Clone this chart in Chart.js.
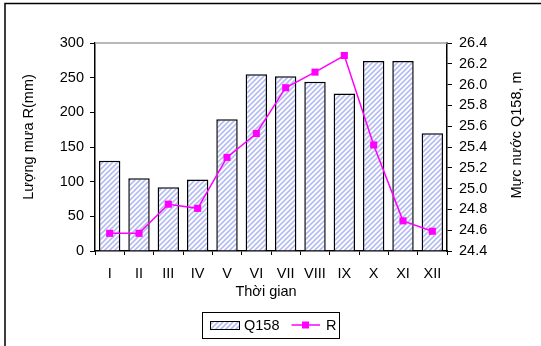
<!DOCTYPE html>
<html>
<head>
<meta charset="utf-8">
<script src="https://cdn.jsdelivr.net/npm/chart.js@4/dist/chart.umd.min.js"></script>
<style>
  html, body { margin: 0; padding: 0; background: #fff; }
  #wrap { width: 541px; height: 346px; position: relative; }
</style>
</head>
<body>
<div id="wrap"><canvas id="c" width="541" height="346"></canvas></div>
<script>
const months = ['I', 'II', 'III', 'IV', 'V', 'VI', 'VII', 'VIII', 'IX', 'X', 'XI', 'XII']
const q158 = [130, 105, 92, 103, 190, 255, 252, 244, 227, 274, 274, 170]
const rLevel = [24.57, 24.57, 24.85, 24.81, 25.3, 25.53, 25.97, 26.12, 26.28, 25.42, 24.69, 24.59]
const leftTicks = [0, 50, 100, 150, 200, 250, 300]
const rightTicks = [24.4, 24.6, 24.8, 25.0, 25.2, 25.4, 25.6, 25.8, 26.0, 26.2, 26.4]

const FONT = '14.5px "Liberation Sans", Arial, sans-serif'

function stripePattern() {
  const p = document.createElement('canvas')
  p.width = 5
  p.height = 5
  const c = p.getContext('2d')
  c.fillStyle = '#ffffff'
  c.fillRect(0, 0, 5, 5)
  c.strokeStyle = '#b4bcf2'
  c.lineWidth = 1.6
  c.beginPath()
  c.moveTo(-1, 6); c.lineTo(6, -1)
  c.moveTo(-1, 1); c.lineTo(1, -1)
  c.moveTo(4, 6); c.lineTo(6, 4)
  c.stroke()
  return document.getElementById('c').getContext('2d').createPattern(p, 'repeat')
}

const decor = {
  id: 'decor',
  beforeDraw(chart) {
    const ctx = chart.ctx
    ctx.save()
    ctx.fillStyle = '#fff'
    ctx.fillRect(0, 0, chart.width, chart.height)
    ctx.strokeStyle = '#000'
    ctx.lineWidth = 1.5
    ctx.beginPath()
    ctx.moveTo(5, 346)
    ctx.lineTo(5, 3.5)
    ctx.lineTo(541, 3.5)
    ctx.stroke()
    ctx.restore()
  },
  afterDraw(chart) {
    const ctx = chart.ctx
    const a = chart.chartArea
    ctx.save()
    // top gray line of plot area
    ctx.strokeStyle = '#a0a0a0'
    ctx.lineWidth = 1.5
    ctx.beginPath()
    ctx.moveTo(a.left, a.top)
    ctx.lineTo(a.right, a.top)
    ctx.stroke()

    ctx.fillStyle = '#000'
    ctx.font = FONT
    ctx.textAlign = 'center'
    ctx.textBaseline = 'middle'
    ctx.fillText('Thời gian', 266, 292)

    ctx.save()
    ctx.translate(28.5, 137)
    ctx.rotate(-Math.PI / 2)
    ctx.fillText('Lượng mưa R(mm)', 0, 0)
    ctx.restore()

    ctx.save()
    ctx.translate(516.5, 135)
    ctx.rotate(-Math.PI / 2)
    ctx.fillText('Mực nước Q158, m', 0, 0)
    ctx.restore()

    // legend
    ctx.strokeStyle = '#000'
    ctx.lineWidth = 1
    ctx.strokeRect(202.5, 312.5, 137, 26)
    ctx.fillStyle = chart.data.datasets[0].backgroundColor
    ctx.fillRect(210, 321, 29, 8)
    ctx.strokeRect(210.5, 321.5, 29, 8)
    ctx.fillStyle = '#000'
    ctx.textAlign = 'left'
    ctx.fillText(chart.data.datasets[0].label, 244, 325.5)
    ctx.strokeStyle = '#ff00ff'
    ctx.lineWidth = 1.5
    ctx.beginPath()
    ctx.moveTo(291.5, 325)
    ctx.lineTo(320, 325)
    ctx.stroke()
    ctx.fillStyle = '#ff00ff'
    ctx.fillRect(302, 321.5, 7, 7)
    ctx.fillStyle = '#000'
    ctx.fillText(chart.data.datasets[1].label, 326, 325.5)
    ctx.restore()
  }
}

Chart.defaults.font.family = '"Liberation Sans", Arial, sans-serif'
Chart.defaults.font.size = 14.5
Chart.defaults.color = '#000'

new Chart(document.getElementById('c'), {
  data: {
    labels: months,
    datasets: [
      {
        type: 'bar',
        label: 'Q158',
        data: q158,
        yAxisID: 'y',
        backgroundColor: stripePattern(),
        borderColor: '#000',
        borderWidth: 1.5,
        borderSkipped: 'bottom',
        barPercentage: 0.73,
        categoryPercentage: 1,
        order: 2
      },
      {
        type: 'line',
        label: 'R',
        data: rLevel,
        yAxisID: 'y2',
        borderColor: '#ff00ff',
        backgroundColor: '#ff00ff',
        borderWidth: 1.5,
        pointStyle: 'rect',
        pointRadius: 5,
        pointHoverRadius: 5,
        pointBorderWidth: 0,
        tension: 0,
        order: 1
      }
    ]
  },
  options: {
    responsive: false,
    animation: false,
    events: [],
    layout: { padding: { left: 0, right: 0, top: 43, bottom: 0 } },
    plugins: { legend: { display: false }, tooltip: { enabled: false } },
    scales: {
      x: {
        type: 'category',
        offset: true,
        grid: { display: true, drawOnChartArea: false, drawTicks: true, tickLength: 4, color: '#000', offset: true },
        border: { display: true, color: '#000', width: 1.5 },
        ticks: { padding: 10, maxRotation: 0, autoSkip: false },
        afterFit(s) { s.height = 95 }
      },
      y: {
        position: 'left',
        min: 0,
        max: 300,
        afterBuildTicks(s) { s.ticks = leftTicks.map(v => ({ value: v })) },
        grid: { display: true, drawOnChartArea: false, drawTicks: true, tickLength: 5, color: '#000' },
        border: { display: true, color: '#000', width: 1.5 },
        ticks: { padding: 6 },
        afterFit(s) { s.width = 95 }
      },
      y2: {
        position: 'right',
        min: 24.4,
        max: 26.4,
        afterBuildTicks(s) { s.ticks = rightTicks.map(v => ({ value: v })) },
        grid: { display: true, drawOnChartArea: false, drawTicks: true, tickLength: 5, color: '#000' },
        border: { display: true, color: '#000', width: 1.5 },
        ticks: { padding: 7, callback: v => Number(v).toFixed(1) },
        afterFit(s) { s.width = 94 }
      }
    }
  },
  plugins: [decor]
})
</script>
</body>
</html>
